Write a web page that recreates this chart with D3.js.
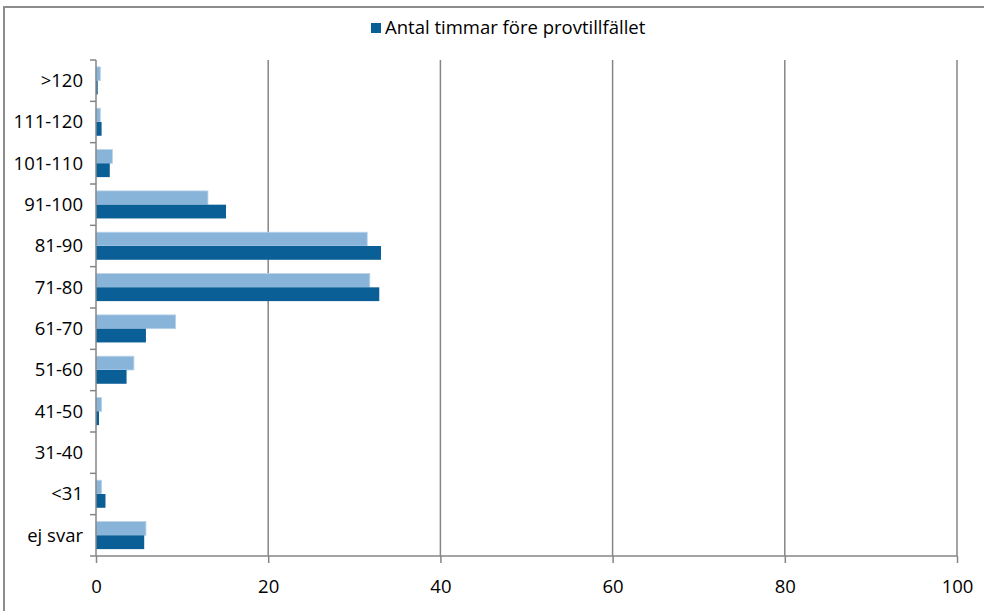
<!DOCTYPE html>
<html>
<head>
<meta charset="utf-8">
<script src="https://cdn.jsdelivr.net/npm/d3@7"></script>
<style>
  html, body { margin: 0; padding: 0; background: #fff; }
  svg { display: block; }
  text { font-family: "Open Sans", "Noto Sans", sans-serif; fill: #000; }
</style>
</head>
<body>
<svg id="chart" width="984" height="611"></svg>
<script>
// Data
const categories = [">120", "111-120", "101-110", "91-100", "81-90", "71-80", "61-70", "51-60", "41-50", "31-40", "<31", "ej svar"];
const lightValues = [0.5, 0.5, 1.9, 13.0, 31.5, 31.8, 9.25, 4.4, 0.65, 0, 0.65, 5.8];
const darkValues  = [0.2, 0.65, 1.6, 15.1, 33.1, 32.9, 5.8, 3.55, 0.35, 0, 1.1, 5.6];
const seriesNames = ["", "Antal timmar före provtillfället"];
const xTicks = [0, 20, 40, 60, 80, 100];

const svg = d3.select("#chart");
const W = 984, H = 611;
const margin = { left: 96, right: 984 - 957, top: 60, bottom: 611 - 556 };
const FS = 18.5;

// Outer frame
svg.append("rect")
  .attr("x", 4).attr("y", 7)
  .attr("width", 1100).attr("height", 800)
  .attr("fill", "none").attr("stroke", "#8c8c8c").attr("stroke-width", 2);

const x = d3.scaleLinear().domain([0, 100]).range([margin.left, W - margin.right]);
const y = d3.scaleBand().domain(categories).range([margin.top, H - margin.bottom]).paddingInner(1/3).paddingOuter(1/6);
const sub = d3.scaleBand().domain([0, 1]).range([0, y.bandwidth()]);

// Gridlines
svg.append("g").selectAll("line")
  .data(xTicks.filter(d => d > 0))
  .join("line")
  .attr("x1", d => x(d)).attr("x2", d => x(d))
  .attr("y1", margin.top).attr("y2", H - margin.bottom)
  .attr("stroke", "#868686").attr("stroke-width", 1.5);

// Bars
const data = categories.map((c, i) => ({ c, light: lightValues[i], dark: darkValues[i] }));
const g = svg.append("g");
g.selectAll("rect.light").data(data).join("rect")
  .attr("class", "light")
  .attr("x", x(0))
  .attr("y", d => y(d.c) + sub(0))
  .attr("width", d => x(d.light) - x(0))
  .attr("height", sub.bandwidth())
  .attr("fill", "#88b4da")
  .attr("stroke", d => d.light > 0 ? "#b9d3ea" : "none")
  .attr("stroke-width", 0.8);
g.selectAll("rect.dark").data(data).join("rect")
  .attr("class", "dark")
  .attr("x", x(0))
  .attr("y", d => y(d.c) + sub(1))
  .attr("width", d => x(d.dark) - x(0))
  .attr("height", sub.bandwidth())
  .attr("fill", "#0b5f97");

// X axis
const xAxis = d3.axisBottom(x).tickValues(xTicks).tickSize(7).tickPadding(17).tickFormat(d3.format("d"));
const xg = svg.append("g").attr("transform", `translate(0,${H - margin.bottom})`).call(xAxis);
xg.select(".domain").attr("stroke", "#868686").attr("stroke-width", 1.5).attr("d", `M${x(0)},0H${x(100)}`);
xg.selectAll(".tick line").attr("stroke", "#868686").attr("stroke-width", 1.5);
xg.selectAll(".tick text").attr("font-size", FS).attr("font-family", "'Open Sans', sans-serif").attr("fill", "#000");

// Y axis (category ticks between bands)
const yg = svg.append("g");
yg.append("line")
  .attr("x1", x(0)).attr("x2", x(0))
  .attr("y1", margin.top).attr("y2", H - margin.bottom)
  .attr("stroke", "#868686").attr("stroke-width", 1.5);
const step = y.step();
const boundaries = d3.range(categories.length + 1).map(i => margin.top + i * step);
yg.selectAll("line.tk").data(boundaries).join("line")
  .attr("class", "tk")
  .attr("x1", x(0) - 6).attr("x2", x(0))
  .attr("y1", d => d).attr("y2", d => d)
  .attr("stroke", "#868686").attr("stroke-width", 1.5);
yg.selectAll("text").data(categories).join("text")
  .attr("x", 83)
  .attr("y", d => y(d) + y.bandwidth() / 2)
  .attr("dy", "0.35em")
  .attr("text-anchor", "end")
  .attr("font-size", FS)
  .text(d => d);

// Legend
const lg = svg.append("g").attr("transform", "translate(371,23)");
lg.append("rect").attr("width", 10).attr("height", 10).attr("fill", "#0b5f97");
lg.append("text").attr("x", 14).attr("y", 5).attr("dy", "0.35em").attr("font-size", FS).text(seriesNames[1]);
</script>
</body>
</html>
